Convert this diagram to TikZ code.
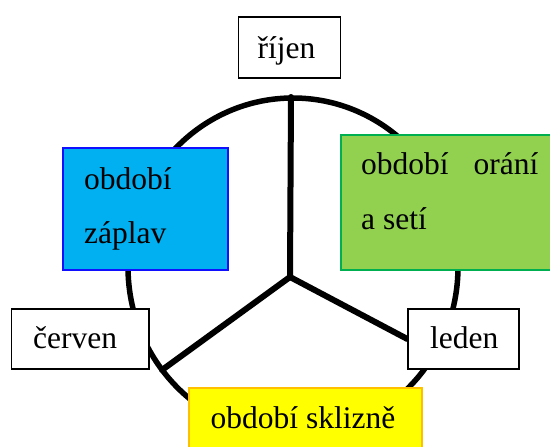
\documentclass[tikz,border=0pt]{standalone}
\usepackage{fontspec}
\setmainfont{Liberation Serif}
\definecolor{bluefill}{HTML}{00B0F0}
\definecolor{blueline}{HTML}{1010FF}
\definecolor{greenfill}{HTML}{92D050}
\definecolor{greenline}{HTML}{00B050}
\definecolor{yellowfill}{HTML}{FFFF00}
\definecolor{yellowline}{HTML}{FFC000}
\tikzset{
  wheel/.style={line width=5.5pt, black},
  spoke/.style={line width=6pt, black, line cap=round},
  plainbox/.style={draw=black, line width=1.3pt, fill=white, inner sep=0pt},
  colbox/.style={line width=1.3pt, inner sep=0pt},
  txt/.style={inner sep=0pt, anchor=base west, font=\fontsize{31.5}{31.5}\selectfont}
}
\begin{document}
\begin{tikzpicture}[x=1pt, y=-1pt]
\clip (0,0) rectangle (550,447);
\fill[white] (0,0) rectangle (550,447);
% wheel
\draw[wheel] (293,267) ellipse [x radius=165, y radius=169];
\coordinate (hub) at (290,277);
\coordinate (top) at (291,97);
\coordinate (leftend) at (162,370);
% boxes (positions)
\node[plainbox, minimum width=102pt, minimum height=61pt] (rijen) at (289.5,47.5) {};
\node[plainbox, minimum width=137.5pt, minimum height=60pt] (cerven) at (80.25,339) {};
\node[plainbox, minimum width=111pt, minimum height=60pt] (leden) at (463.5,339) {};
% spokes
\draw[spoke] (hub) -- (top);
\draw[spoke] (hub) -- (leftend);
\draw[spoke] (hub) -- (leden.west);
% redraw boxes on top
\node[plainbox, minimum width=137.5pt, minimum height=60pt] (cerven2) at (cerven) {};
\node[plainbox, minimum width=111pt, minimum height=60pt] (leden2) at (leden) {};
\node[colbox, draw=blueline, fill=bluefill, minimum width=165pt, minimum height=122pt] (zaplav) at (145.5,209) {};
\node[colbox, draw=greenline, fill=greenfill, minimum width=215pt, minimum height=135pt] (orani) at (448.5,202.5) {};
\node[colbox, draw=yellowline, fill=yellowfill, minimum width=233pt, minimum height=80pt] (sklizne) at (305.5,428) {};
% texts
\node[txt] (t1) at (257.5,58) {říjen};
\node[txt] (t2) at (84,189) {období};
\node[txt] (t3) at (84,243) {záplav};
\node[txt] (t4) at (361,174) {období\hspace{25pt}orání};
\node[txt] (t5) at (361,229) {a setí};
\node[txt] (t6) at (33,348) {červen};
\node[txt] (t7) at (430,348) {leden};
\node[txt] (t8) at (210.5,428) {období sklizně};
\end{tikzpicture}
\end{document}
